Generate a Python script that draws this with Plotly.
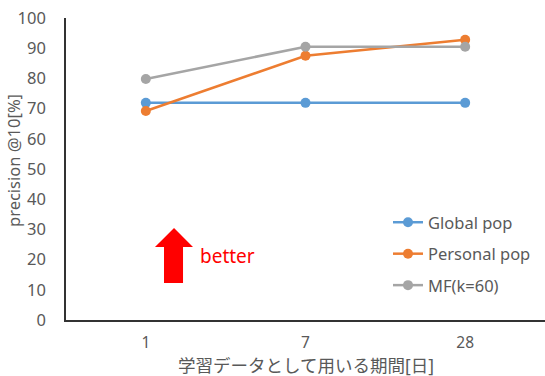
import plotly.graph_objects as go

categories = ["1", "7", "28"]
global_pop = [71.9, 71.9, 71.9]
personal_pop = [69.2, 87.5, 92.8]
mf_k60 = [79.8, 90.5, 90.5]
y_ticks = [0, 10, 20, 30, 40, 50, 60, 70, 80, 90, 100]

FONT = "Noto Sans, Noto Sans CJK JP"
W, H = 545, 376
L, R, T, B = 66, 0, 18, 56
PW, PH = W - L - R, H - T - B

def px(x):
    return (x - L) / PW

def py(y):
    return (H - B - y) / PH

fig = go.Figure()
series = [("Global pop", global_pop, "#5B9BD5"),
          ("Personal pop", personal_pop, "#ED7D31"),
          ("MF(k=60)", mf_k60, "#A5A5A5")]
for name, vals, col in series:
    fig.add_trace(go.Scatter(
        x=categories, y=vals, name=name, mode="lines+markers",
        line=dict(color=col, width=2.5), marker=dict(color=col, size=10),
        legendgroup=name))

# red block arrow
pts = [(174, 228), (193, 247), (183, 247), (183, 283), (164, 283), (164, 247), (155, 247)]
path = "M " + " L ".join(f"{px(a):.4f},{py(b):.4f}" for a, b in pts) + " Z"
fig.add_shape(type="path", path=path, xref="paper", yref="paper",
              fillcolor="#FF0000", line=dict(width=0))
fig.add_annotation(text="better", x=px(198), y=py(256), xref="paper", yref="paper",
                   xanchor="left", yanchor="middle", showarrow=False,
                   font=dict(family=FONT, size=19, color="#FF0000"))

# axis titles
fig.add_annotation(text="学習データとして用いる期間[日]", x=0.5, y=py(365),
                   xref="paper", yref="paper", xanchor="center", yanchor="middle",
                   showarrow=False, font=dict(family=FONT, size=17.5, color="#595959"))
fig.add_annotation(text="precision @10[%]", x=px(13), y=py(161),
                   xref="paper", yref="paper", xanchor="center", yanchor="middle",
                   textangle=-90, showarrow=False,
                   font=dict(family=FONT, size=16.5, color="#595959"))

fig.update_layout(
    width=W, height=H, margin=dict(l=L, r=R, t=T, b=B),
    paper_bgcolor="white", plot_bgcolor="white",
    font=dict(family=FONT, size=16, color="#595959"),
    showlegend=True,
    legend=dict(x=px(388), y=py(205), xanchor="left", yanchor="top",
                bgcolor="rgba(0,0,0,0)", tracegroupgap=7,
                font=dict(family=FONT, size=16.5, color="#595959")),
    xaxis=dict(type="category", range=[-0.5, 2.5], showgrid=False,
               showline=True, linecolor="#333333", linewidth=1.5,
               ticks="outside", ticklen=8, tickcolor="rgba(0,0,0,0)",
               tickfont=dict(size=15.5, color="#595959"), automargin=False),
    yaxis=dict(range=[0, 100], tickvals=y_ticks, showgrid=False,
               showline=True, linecolor="#333333", linewidth=1.5,
               ticks="outside", ticklen=15, tickcolor="rgba(0,0,0,0)",
               tickfont=dict(size=16.5, color="#595959"), automargin=False),
)
fig.write_html("out.html")
